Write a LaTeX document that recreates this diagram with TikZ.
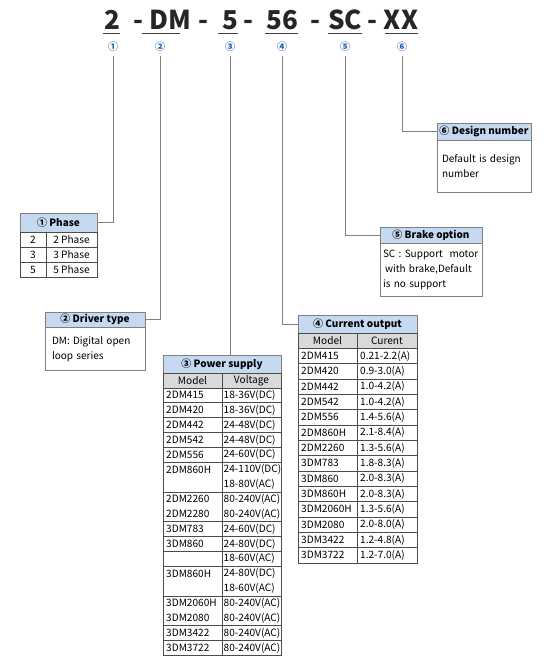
\documentclass[tikz,border=0pt]{standalone}
\usepackage{fontspec}
\setmainfont{Noto Sans CJK SC}
\usetikzlibrary{positioning}
\definecolor{headblue}{RGB}{197,217,241}
\definecolor{rowgray}{RGB}{217,217,217}
\definecolor{numblue}{RGB}{30,96,178}
\definecolor{linegray}{RGB}{128,128,128}
\tikzset{
  code/.style={font=\fontsize{26}{26}\selectfont\bfseries, text=black!85, inner sep=0pt, anchor=base},
  num/.style={font=\fontsize{10}{10}\selectfont\bfseries, text=numblue, inner sep=0pt},
  conn/.style={draw=linegray, line width=0.9pt},
  uline/.style={draw=black!75, line width=1.3pt},
  head/.style={draw=linegray, fill=headblue, font=\fontsize{10}{12}\selectfont\bfseries, inner sep=0pt},
  bodybox/.style={draw=linegray, font=\fontsize{10}{15}\selectfont, align=left, inner sep=0pt},
  cell/.style={font=\fontsize{10.1}{11}\selectfont, inner sep=0pt, anchor=west},
  ccell/.style={font=\fontsize{10.1}{11}\selectfont, inner sep=0pt},
  grid/.style={draw=black!70, line width=0.6pt}
}
\begin{document}
\begin{tikzpicture}[x=1pt,y=-1pt]
  \useasboundingbox (0,0) rectangle (553,663);
  % code parts
  \node[code] (c1) at (112,30) {2};
  \node[code] (c2) at (170.5,30) {DM};
  \node[code] (c3) at (230,30) {5};
  \node[code] (c4) at (282,30) {56};
  \node[code] (c5) at (345,30) {SC};
  \node[code] (c6) at (401,30) {XX};
  \foreach \x [count=\i] in {138,203,248,315,372}
    \node[code] (d\i) at (\x,30) {-};
  \foreach \a/\b in {103/120,142/180,218/238,265/298,328/362,385/418}
    \draw[uline] (\a,33.5) -- (\b,33.5);
  % circled numbers
  \foreach \x/\t [count=\i] in {113/①,160/②,230/③,282/④,345/⑤,402/⑥}
    \node[num] (n\i) at (\x,47) {\t};

  % 1 phase
  \node[head, minimum width=77pt, minimum height=19pt] (phase) at (58.5,222.5) {① Phase};
  \draw[grid] (20,232) rectangle (97,277);
  \draw[grid] (46,232) -- (46,277);
  \foreach \y in {247,262} \draw[grid] (20,\y) -- (97,\y);
  \foreach \a/\b [count=\i] in {2/2 Phase,3/3 Phase,5/5 Phase} {
    \node[ccell] (pha\i) at (33,{224.5+15*\i}) {\a};
    \node[ccell] (phb\i) at (71.5,{224.5+15*\i}) {\b};
  }

  % 2 driver type
  \node[head, minimum width=100pt, minimum height=15pt] (driver) at (95,319.5) {② Driver type};
  \node[bodybox, minimum width=100pt, minimum height=43pt, text width=86pt, below=0pt of driver] (driverbody)
    {DM: Digital open\\loop series};

  % 3 power supply
  \def\pp{14.86}
  \node[head, minimum width=118pt, minimum height=18pt] (power) at (222,364) {③ Power supply};
  \fill[rowgray] (163,373) rectangle (281,{373+\pp});
  \draw[grid] (163,373) rectangle (281,655);
  \draw[grid] (222,373) -- (222,655);
  \foreach \k in {1,...,6,8,10,11,12,13,15,17,18}
    \draw[grid] (163,{373+\k*\pp}) -- (281,{373+\k*\pp});
  \node[ccell] (pmh) at (192.5,{373+0.5*\pp}) {Model};
  \node[ccell] (pvh) at (251.5,{373+0.5*\pp}) {Voltage};
  \foreach \m/\v [count=\k] in {2DM415/18-36V(DC),2DM420/18-36V(DC),2DM442/24-48V(DC),
      2DM542/24-48V(DC),2DM556/24-60V(DC),2DM860H/24-110V(DC),/18-80V(AC),
      2DM2260/80-240V(AC),2DM2280/80-240V(AC),3DM783/24-60V(DC),3DM860/24-80V(DC),
      /18-60V(AC),3DM860H/24-80V(DC),/18-60V(AC),3DM2060H/80-240V(AC),
      3DM2080/80-240V(AC),3DM3422/80-240V(AC),3DM3722/80-240V(AC)} {
    \node[cell] (pm\k) at (166,{373+(\k+0.5)*\pp}) {\m};
    \node[cell] (pv\k) at (223.5,{373+(\k+0.5)*\pp}) {\v};
  }

  % 4 current output
  \def\cp{15.33}
  \node[head, minimum width=119pt, minimum height=18pt] (current) at (357.5,324) {④ Current output};
  \fill[rowgray] (298,333) rectangle (417,{333+\cp});
  \draw[grid] (298,333) rectangle (417,563);
  \draw[grid] (357,333) -- (357,563);
  \foreach \k in {1,...,14}
    \draw[grid] (298,{333+\k*\cp}) -- (417,{333+\k*\cp});
  \node[ccell] (cmh) at (327.5,{333+0.5*\cp}) {Model};
  \node[ccell] (cvh) at (387,{333+0.5*\cp}) {Curent};
  \foreach \m/\v [count=\k] in {2DM415/0.21-2.2(A),2DM420/0.9-3.0(A),2DM442/1.0-4.2(A),
      2DM542/1.0-4.2(A),2DM556/1.4-5.6(A),2DM860H/2.1-8.4(A),2DM2260/1.3-5.6(A),
      3DM783/1.8-8.3(A),3DM860/2.0-8.3(A),3DM860H/2.0-8.3(A),3DM2060H/1.3-5.6(A),
      3DM2080/2.0-8.0(A),3DM3422/1.2-4.8(A),3DM3722/1.2-7.0(A)} {
    \node[cell] (cm\k) at (301,{333+(\k+0.5)*\cp}) {\m};
    \node[cell] (cv\k) at (360,{333+(\k+0.5)*\cp}) {\v};
  }

  % 5 brake option
  \node[head, minimum width=102pt, minimum height=16pt] (brake) at (431,235) {⑤ Brake option};
  \node[bodybox, minimum width=102pt, minimum height=53pt, text width=96pt, below=0pt of brake] (brakebody)
    {SC : Support~ motor\\\hspace*{2pt}with brake,Default\\is no support};

  % 6 design number
  \node[head, minimum width=94pt, minimum height=17pt] (design) at (484,131.5) {⑥ Design number};
  \node[bodybox, minimum width=94pt, minimum height=52pt, text width=84pt, below=0pt of design] (designbody)
    {Default is design\\number\\[8pt]};

  % connectors
  \draw[conn] ([yshift=-4pt]n1.south) |- (phase.east);
  \draw[conn] ([yshift=-4pt]n2.south) |- (driver.east);
  \draw[conn] ([yshift=-4pt]n3.south) -- (n3 |- power.north);
  \draw[conn] ([yshift=-4pt]n4.south) |- (current.west);
  \draw[conn] ([yshift=-4pt]n5.south) |- (brake.west);
  \draw[conn] ([yshift=-4pt]n6.south) |- (design.west);
\end{tikzpicture}
\end{document}
